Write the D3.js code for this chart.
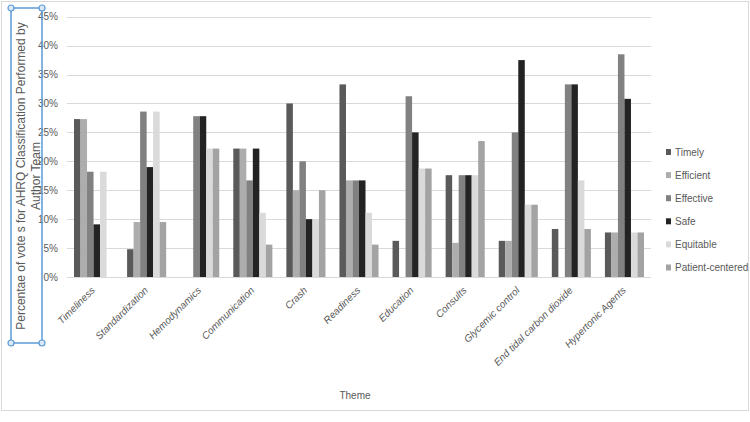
<!DOCTYPE html>
<html><head><meta charset="utf-8">
<script src="https://cdn.jsdelivr.net/npm/d3@7"></script>
<style>body{margin:0;background:#fff;}svg{display:block;font-family:"Liberation Sans",Arial,sans-serif;}</style>
</head><body><svg id="c" width="750" height="422"></svg>
<script>
const themes = ["Timeliness","Standardization","Hemodynamics","Communication","Crash","Readiness","Education","Consults","Glycemic control","End tidal carbon dioxide","Hypertonic Agents"];
const seriesNames = ["Timely","Efficient","Effective","Safe","Equitable","Patient-centered"];
const timely = [27.3, 4.8, 0, 22.2, 30.0, 33.3, 6.25, 17.6, 6.25, 8.3, 7.7];
const efficient = [27.3, 9.5, 0, 22.2, 15.0, 16.7, 0, 5.9, 6.25, 0, 7.7];
const effective = [18.2, 28.6, 27.8, 16.7, 20.0, 16.7, 31.25, 17.6, 25.0, 33.3, 38.5];
const safe = [9.1, 19.0, 27.8, 22.2, 10.0, 16.7, 25.0, 17.6, 37.5, 33.3, 30.8];
const equitable = [18.2, 28.6, 22.2, 11.1, 10.0, 11.1, 18.75, 17.6, 12.5, 16.7, 7.7];
const patientCentered = [0, 9.5, 22.2, 5.6, 15.0, 5.6, 18.75, 23.5, 12.5, 8.3, 7.7];
const yTicks = [0,5,10,15,20,25,30,35,40,45];
const colors = ["#5a5a5a","#adadad","#818181","#232323","#dadada","#a3a3a3"];

const series = [timely, efficient, effective, safe, equitable, patientCentered];
const svg = d3.select("#c");
const txt = "#595959";

// chart border
svg.append("rect").attr("x",1.5).attr("y",1.5).attr("width",747).attr("height",409)
  .attr("fill","#fff").attr("stroke","#d9d9d9").attr("stroke-width",1);

const x0 = d3.scaleBand().domain(themes).range([67,651]).paddingInner(0.264).paddingOuter(0.132);
const x1 = d3.scaleBand().domain(seriesNames).range([0,x0.bandwidth()]);
const y = d3.scaleLinear().domain([0,45]).range([277,16.7]);

// gridlines
svg.append("g").selectAll("line").data(yTicks).join("line")
  .attr("x1",67).attr("x2",651).attr("y1",d=>Math.round(y(d))+0.5).attr("y2",d=>Math.round(y(d))+0.5)
  .attr("stroke","#d9d9d9").attr("stroke-width",1);

// y axis labels
const yAxis = d3.axisLeft(y).tickValues(yTicks).tickFormat(d=>d+"%").tickSize(0).tickPadding(0);
const ya = svg.append("g").attr("transform","translate(58,0)").call(yAxis);
ya.select(".domain").remove();
ya.selectAll("text").attr("fill",txt).attr("font-size",10).attr("font-family","Liberation Sans, Arial, sans-serif");

// bars
const groups = svg.append("g").selectAll("g").data(themes).join("g")
  .attr("transform",d=>`translate(${x0(d)},0)`);
groups.selectAll("rect").data((d,i)=>seriesNames.map((s,j)=>({s, v:series[j][i], c:colors[j]}))).join("rect")
  .attr("x",d=>x1(d.s)).attr("width",x1.bandwidth())
  .attr("y",d=>y(d.v)).attr("height",d=>y(0)-y(d.v)).attr("fill",d=>d.c);

// x axis labels
const xAxis = d3.axisBottom(x0).tickSize(0).tickPadding(0);
const xa = svg.append("g").attr("transform","translate(0,277)").call(xAxis);
xa.select(".domain").remove();
xa.selectAll("text").attr("fill",txt).attr("font-size",10).attr("font-style","italic")
  .attr("font-family","Liberation Sans, Arial, sans-serif")
  .attr("text-anchor","end").attr("dy",0).attr("y",0)
  .attr("transform","translate(2,14) rotate(-45)");

// x title
svg.append("text").attr("x",355).attr("y",399).attr("text-anchor","middle")
  .attr("fill",txt).attr("font-size",10).text("Theme");

// y title text box
svg.append("rect").attr("x",11).attr("y",8).attr("width",31).attr("height",335)
  .attr("fill","none").attr("stroke","#5b9bd5").attr("stroke-width",1.5);
const yt = svg.append("text").attr("transform","translate(25,176) rotate(-90)")
  .attr("text-anchor","middle").attr("fill",txt).attr("font-size",12);
yt.append("tspan").attr("x",0).attr("dy",0).text("Percentae of vote s for AHRQ Classification Performed by");
yt.append("tspan").attr("x",0).attr("dy",14.5).text("Author Team");
[[11,8],[42,8],[11,343],[42,343]].forEach(p=>{
  svg.append("circle").attr("cx",p[0]).attr("cy",p[1]).attr("r",3)
    .attr("fill","#dbe9f7").attr("stroke","#5b9bd5").attr("stroke-width",1.2);
});

// legend
const leg = svg.append("g").selectAll("g").data(seriesNames).join("g")
  .attr("transform",(d,i)=>`translate(666,${152+i*23.1})`);
leg.append("rect").attr("x",0).attr("y",-3).attr("width",5).attr("height",6).attr("fill",(d,i)=>colors[i]);
leg.append("text").attr("x",9).attr("y",3.5).attr("fill",txt).attr("font-size",10).text(d=>d);
</script></body></html>
